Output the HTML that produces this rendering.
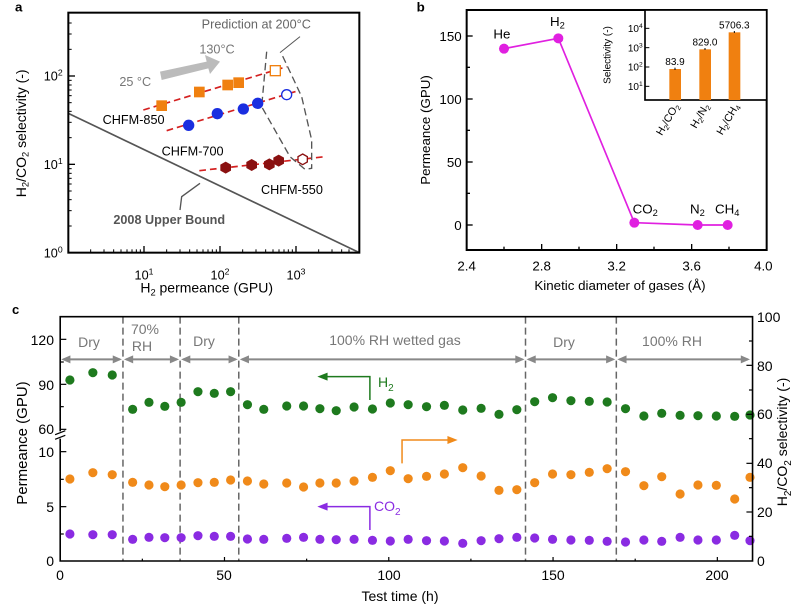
<!DOCTYPE html>
<html><head><meta charset="utf-8"><style>
html,body{margin:0;padding:0;background:#fff;overflow:hidden;}
svg{display:block;font-family:"Liberation Sans",Arial,sans-serif;}
</style></head><body>
<svg width="800" height="605" viewBox="0 0 800 605" xmlns="http://www.w3.org/2000/svg">
<!-- Panel a -->
<g transform="scale(0.33333)">
<text x="45" y="35" font-size="40" font-weight="bold">a</text>
<line x1="205" y1="340" x2="1078" y2="758" stroke="#555" stroke-width="5"/>
<polyline points="540,630 545,590 600,550" fill="none" stroke="#555" stroke-width="4"/>
<text x="340" y="672" font-size="38" font-weight="bold" fill="#555">2008 Upper Bound</text>
<line x1="430" y1="330" x2="860" y2="200" stroke="#d42020" stroke-width="5" stroke-dasharray="20,12"/>
<line x1="500" y1="392" x2="895" y2="272" stroke="#d42020" stroke-width="5" stroke-dasharray="20,12"/>
<line x1="598" y1="512" x2="975" y2="470" stroke="#d42020" stroke-width="5" stroke-dasharray="20,12"/>
<path d="M800,155 L785,320 L870,470 L915,508 L935,505 L935,420 L905,290 L845,162" fill="none" stroke="#555" stroke-width="4" stroke-dasharray="22,12"/>
<line x1="900" y1="110" x2="840" y2="158" stroke="#555" stroke-width="3"/>
<polygon points="480,215 620,185 615,165 660,185 630,222 625,205 485,240" fill="#bbb"/>
<g fill="#f08010">
<rect x="469" y="301" width="32" height="32"/><rect x="582" y="260" width="32" height="32"/><rect x="667" y="239" width="32" height="32"/><rect x="700" y="232" width="32" height="32"/>
</g>
<rect x="811" y="197" width="30" height="30" fill="#fff" stroke="#f08010" stroke-width="4"/>
<g fill="#1a2ee0">
<circle cx="566" cy="376" r="17"/><circle cx="652" cy="341" r="17"/><circle cx="730" cy="327" r="17"/><circle cx="773" cy="310" r="17"/>
</g>
<circle cx="860" cy="284" r="15" fill="#fff" stroke="#1a2ee0" stroke-width="4"/>
<g fill="#8a1010">
<polygon points="677,485 693,494 693,512 677,521 661,512 661,494"/>
<polygon points="755,477 771,486 771,504 755,513 739,504 739,486"/>
<polygon points="808,475 824,484 824,502 808,511 792,502 792,484"/>
<polygon points="836,464 852,473 852,491 836,500 820,491 820,473"/>
</g>
<polygon points="908,462 922,470 922,486 908,494 894,486 894,470" fill="#fff" stroke="#8a1010" stroke-width="4"/>
<text x="605" y="85" font-size="38" fill="#666">Prediction at 200°C</text>
<text x="598" y="160" font-size="38" fill="#777">130°C</text>
<text x="358" y="258" font-size="38" fill="#777">25 °C</text>
<text x="308" y="372" font-size="38">CHFM-850</text>
<text x="485" y="467" font-size="38">CHFM-700</text>
<text x="783" y="582" font-size="38">CHFM-550</text>
<rect x="205" y="38" width="873" height="720" fill="none" stroke="#000" stroke-width="6"/>
<g stroke="#000" stroke-width="4">
<line x1="205" y1="493" x2="225" y2="493"/><line x1="205" y1="228" x2="225" y2="228"/>
<line x1="432" y1="758" x2="432" y2="738"/><line x1="660" y1="758" x2="660" y2="738"/><line x1="888" y1="758" x2="888" y2="738"/>
</g>
<g stroke="#000" stroke-width="3">
<line x1="205" y1="678" x2="215" y2="678"/><line x1="205" y1="632" x2="215" y2="632"/><line x1="205" y1="599" x2="215" y2="599"/><line x1="205" y1="573" x2="215" y2="573"/><line x1="205" y1="552" x2="215" y2="552"/><line x1="205" y1="535" x2="215" y2="535"/><line x1="205" y1="520" x2="215" y2="520"/><line x1="205" y1="506" x2="215" y2="506"/>
<line x1="205" y1="413" x2="215" y2="413"/><line x1="205" y1="367" x2="215" y2="367"/><line x1="205" y1="334" x2="215" y2="334"/><line x1="205" y1="308" x2="215" y2="308"/><line x1="205" y1="287" x2="215" y2="287"/><line x1="205" y1="270" x2="215" y2="270"/><line x1="205" y1="255" x2="215" y2="255"/><line x1="205" y1="241" x2="215" y2="241"/>
<line x1="205" y1="148" x2="215" y2="148"/><line x1="205" y1="102" x2="215" y2="102"/><line x1="205" y1="69" x2="215" y2="69"/>
<line x1="272" y1="758" x2="272" y2="748"/><line x1="312" y1="758" x2="312" y2="748"/><line x1="341" y1="758" x2="341" y2="748"/><line x1="363" y1="758" x2="363" y2="748"/><line x1="381" y1="758" x2="381" y2="748"/><line x1="396" y1="758" x2="396" y2="748"/><line x1="409" y1="758" x2="409" y2="748"/><line x1="421" y1="758" x2="421" y2="748"/>
<line x1="500" y1="758" x2="500" y2="748"/><line x1="540" y1="758" x2="540" y2="748"/><line x1="569" y1="758" x2="569" y2="748"/><line x1="591" y1="758" x2="591" y2="748"/><line x1="609" y1="758" x2="609" y2="748"/><line x1="624" y1="758" x2="624" y2="748"/><line x1="637" y1="758" x2="637" y2="748"/><line x1="649" y1="758" x2="649" y2="748"/>
<line x1="728" y1="758" x2="728" y2="748"/><line x1="768" y1="758" x2="768" y2="748"/><line x1="797" y1="758" x2="797" y2="748"/><line x1="819" y1="758" x2="819" y2="748"/><line x1="837" y1="758" x2="837" y2="748"/><line x1="852" y1="758" x2="852" y2="748"/><line x1="865" y1="758" x2="865" y2="748"/><line x1="877" y1="758" x2="877" y2="748"/>
<line x1="956" y1="758" x2="956" y2="748"/><line x1="996" y1="758" x2="996" y2="748"/><line x1="1025" y1="758" x2="1025" y2="748"/><line x1="1047" y1="758" x2="1047" y2="748"/>
</g>
<g font-size="38" text-anchor="end">
<text x="188" y="772">10<tspan dy="-15" font-size="26">0</tspan></text>
<text x="188" y="507">10<tspan dy="-15" font-size="26">1</tspan></text>
<text x="188" y="242">10<tspan dy="-15" font-size="26">2</tspan></text>
</g>
<g font-size="38" text-anchor="middle">
<text x="432" y="838">10<tspan dy="-15" font-size="26">1</tspan></text>
<text x="660" y="838">10<tspan dy="-15" font-size="26">2</tspan></text>
<text x="888" y="838">10<tspan dy="-15" font-size="26">3</tspan></text>
<text x="620" y="878" font-size="42">H<tspan dy="8" font-size="28">2</tspan><tspan dy="-8"> permeance (GPU)</tspan></text>
<text transform="translate(78,400) rotate(-90)" font-size="42">H<tspan dy="8" font-size="28">2</tspan><tspan dy="-8">/CO</tspan><tspan dy="8" font-size="28">2</tspan><tspan dy="-8"> selectivity (-)</tspan></text>
</g>
</g>
<!-- Panel b -->
<g transform="translate(400,0) scale(0.33333)">
<text x="50" y="35" font-size="40" font-weight="bold">b</text>
<polyline points="312,146 475,115 703,668 893,675 983,675" fill="none" stroke="#e020e0" stroke-width="5"/>
<g fill="#e020e0">
<circle cx="312" cy="146" r="15"/><circle cx="475" cy="115" r="15"/><circle cx="703" cy="668" r="15"/><circle cx="893" cy="675" r="15"/><circle cx="983" cy="675" r="15"/>
</g>
<g font-size="40">
<text x="280" y="115">He</text>
<text x="450" y="78">H<tspan dy="8" font-size="28">2</tspan></text>
<text x="698" y="640">CO<tspan dy="8" font-size="28">2</tspan></text>
<text x="870" y="640">N<tspan dy="8" font-size="28">2</tspan></text>
<text x="945" y="640">CH<tspan dy="8" font-size="28">4</tspan></text>
</g>
<rect x="200" y="30" width="900" height="720" fill="none" stroke="#000" stroke-width="6"/>
<g stroke="#000" stroke-width="4">
<line x1="200" y1="675" x2="218" y2="675"/><line x1="200" y1="486" x2="218" y2="486"/><line x1="200" y1="297" x2="218" y2="297"/><line x1="200" y1="108" x2="218" y2="108"/>
<line x1="200" y1="580" x2="210" y2="580"/><line x1="200" y1="391" x2="210" y2="391"/><line x1="200" y1="202" x2="210" y2="202"/>
<line x1="425" y1="750" x2="425" y2="732"/><line x1="650" y1="750" x2="650" y2="732"/><line x1="875" y1="750" x2="875" y2="732"/>
<line x1="312" y1="750" x2="312" y2="740"/><line x1="537" y1="750" x2="537" y2="740"/><line x1="762" y1="750" x2="762" y2="740"/><line x1="987" y1="750" x2="987" y2="740"/>
</g>
<g font-size="40" text-anchor="end">
<text x="185" y="690">0</text><text x="185" y="501">50</text><text x="185" y="312">100</text><text x="185" y="123">150</text>
</g>
<g font-size="40" text-anchor="middle">
<text x="200" y="812">2.4</text><text x="425" y="812">2.8</text><text x="650" y="812">3.2</text><text x="875" y="812">3.6</text><text x="1090" y="812">4.0</text>
<text x="660" y="870">Kinetic diameter of gases (Å)</text>
<text transform="translate(90,390) rotate(-90)">Permeance (GPU)</text>
</g>
<rect x="735" y="30" width="365" height="270" fill="#fff" stroke="#000" stroke-width="5"/>
<g fill="#f08010">
<rect x="808" y="207" width="35" height="93"/><rect x="898" y="148" width="35" height="152"/><rect x="986" y="97" width="35" height="203"/>
</g>
<g stroke="#000" stroke-width="3">
<line x1="735" y1="85" x2="748" y2="85"/><line x1="735" y1="143" x2="748" y2="143"/><line x1="735" y1="201" x2="748" y2="201"/><line x1="735" y1="259" x2="748" y2="259"/>
<line x1="825" y1="203" x2="825" y2="210"/><line x1="915" y1="144" x2="915" y2="150"/><line x1="1003" y1="93" x2="1003" y2="99"/>
</g>
<g font-size="30" text-anchor="end">
<text x="728" y="96">10<tspan dy="-12" font-size="20">4</tspan></text>
<text x="728" y="154">10<tspan dy="-12" font-size="20">3</tspan></text>
<text x="728" y="212">10<tspan dy="-12" font-size="20">2</tspan></text>
<text x="728" y="270">10<tspan dy="-12" font-size="20">1</tspan></text>
</g>
<g font-size="30" text-anchor="middle">
<text x="825" y="195">83.9</text><text x="915" y="137">829.0</text><text x="1003" y="85">5706.3</text>
<text transform="translate(632,165) rotate(-90)">Selectivity (-)</text>
</g>
<g font-size="32" text-anchor="end">
<text transform="translate(838,318) rotate(-60)">H<tspan dy="7" font-size="22">2</tspan><tspan dy="-7">/CO</tspan><tspan dy="7" font-size="22">2</tspan></text>
<text transform="translate(928,318) rotate(-60)">H<tspan dy="7" font-size="22">2</tspan><tspan dy="-7">/N</tspan><tspan dy="7" font-size="22">2</tspan></text>
<text transform="translate(1018,318) rotate(-60)">H<tspan dy="7" font-size="22">2</tspan><tspan dy="-7">/CH</tspan><tspan dy="7" font-size="22">4</tspan></text>
</g>
</g>
<!-- Panel c graphics (non-uniform scale) -->
<g transform="translate(0,300) scale(0.5102,0.33333)">
<g stroke="#666" stroke-width="1.5" vector-effect="non-scaling-stroke">
<line vector-effect="non-scaling-stroke" x1="241" y1="50" x2="241" y2="783" stroke-dasharray="7,4"/><line vector-effect="non-scaling-stroke" x1="353" y1="50" x2="353" y2="783" stroke-dasharray="7,4"/><line vector-effect="non-scaling-stroke" x1="468" y1="50" x2="468" y2="783" stroke-dasharray="7,4"/><line vector-effect="non-scaling-stroke" x1="1030" y1="50" x2="1030" y2="783" stroke-dasharray="7,4"/><line vector-effect="non-scaling-stroke" x1="1208" y1="50" x2="1208" y2="783" stroke-dasharray="7,4"/>
</g>
<g stroke="#888" stroke-width="2">
<line vector-effect="non-scaling-stroke" x1="124" y1="178" x2="235" y2="178"/><line vector-effect="non-scaling-stroke" x1="247" y1="178" x2="347" y2="178"/><line vector-effect="non-scaling-stroke" x1="359" y1="178" x2="462" y2="178"/><line vector-effect="non-scaling-stroke" x1="474" y1="178" x2="1024" y2="178"/><line vector-effect="non-scaling-stroke" x1="1036" y1="178" x2="1202" y2="178"/><line vector-effect="non-scaling-stroke" x1="1214" y1="178" x2="1466" y2="178"/>
</g>
<g fill="#888">
<path d="M120,178 L138,166 L138,190z"/><path d="M239,178 L221,166 L221,190z"/><path d="M243,178 L261,166 L261,190z"/><path d="M351,178 L333,166 L333,190z"/><path d="M355,178 L373,166 L373,190z"/><path d="M466,178 L448,166 L448,190z"/><path d="M470,178 L488,166 L488,190z"/><path d="M1028,178 L1010,166 L1010,190z"/><path d="M1032,178 L1050,166 L1050,190z"/><path d="M1206,178 L1188,166 L1188,190z"/><path d="M1210,178 L1228,166 L1228,190z"/><path d="M1470,178 L1452,166 L1452,190z"/>
</g>
<g fill="#1e7a1e">
<ellipse cx="137" cy="240" rx="9" ry="13.8"/><ellipse cx="182" cy="218" rx="9" ry="13.8"/><ellipse cx="220" cy="225" rx="9" ry="13.8"/><ellipse cx="260" cy="328" rx="9" ry="13.8"/><ellipse cx="292" cy="307" rx="9" ry="13.8"/><ellipse cx="323" cy="319" rx="9" ry="13.8"/><ellipse cx="355" cy="307" rx="9" ry="13.8"/><ellipse cx="388" cy="275" rx="9" ry="13.8"/><ellipse cx="420" cy="280" rx="9" ry="13.8"/><ellipse cx="452" cy="275" rx="9" ry="13.8"/><ellipse cx="485" cy="314" rx="9" ry="13.8"/><ellipse cx="517" cy="328" rx="9" ry="13.8"/><ellipse cx="562" cy="318" rx="9" ry="13.8"/><ellipse cx="595" cy="318" rx="9" ry="13.8"/><ellipse cx="627" cy="326" rx="9" ry="13.8"/><ellipse cx="659" cy="332" rx="9" ry="13.8"/><ellipse cx="694" cy="321" rx="9" ry="13.8"/><ellipse cx="730" cy="327" rx="9" ry="13.8"/><ellipse cx="765" cy="309" rx="9" ry="13.8"/><ellipse cx="800" cy="314" rx="9" ry="13.8"/><ellipse cx="836" cy="320" rx="9" ry="13.8"/><ellipse cx="871" cy="316" rx="9" ry="13.8"/><ellipse cx="907" cy="330" rx="9" ry="13.8"/><ellipse cx="943" cy="325" rx="9" ry="13.8"/><ellipse cx="978" cy="343" rx="9" ry="13.8"/><ellipse cx="1013" cy="329" rx="9" ry="13.8"/><ellipse cx="1048" cy="305" rx="9" ry="13.8"/><ellipse cx="1083" cy="293" rx="9" ry="13.8"/><ellipse cx="1119" cy="302" rx="9" ry="13.8"/><ellipse cx="1155" cy="304" rx="9" ry="13.8"/><ellipse cx="1190" cy="306" rx="9" ry="13.8"/><ellipse cx="1226" cy="326" rx="9" ry="13.8"/><ellipse cx="1262" cy="348" rx="9" ry="13.8"/><ellipse cx="1297" cy="340" rx="9" ry="13.8"/><ellipse cx="1333" cy="346" rx="9" ry="13.8"/><ellipse cx="1368" cy="347" rx="9" ry="13.8"/><ellipse cx="1404" cy="348" rx="9" ry="13.8"/><ellipse cx="1440" cy="349" rx="9" ry="13.8"/><ellipse cx="1470" cy="345" rx="9" ry="13.8"/>
</g>
<g fill="#f08a1a">
<ellipse cx="137" cy="537" rx="9" ry="13.8"/><ellipse cx="182" cy="518" rx="9" ry="13.8"/><ellipse cx="220" cy="524" rx="9" ry="13.8"/><ellipse cx="260" cy="547" rx="9" ry="13.8"/><ellipse cx="292" cy="555" rx="9" ry="13.8"/><ellipse cx="323" cy="560" rx="9" ry="13.8"/><ellipse cx="355" cy="555" rx="9" ry="13.8"/><ellipse cx="388" cy="548" rx="9" ry="13.8"/><ellipse cx="420" cy="547" rx="9" ry="13.8"/><ellipse cx="452" cy="540" rx="9" ry="13.8"/><ellipse cx="485" cy="543" rx="9" ry="13.8"/><ellipse cx="517" cy="552" rx="9" ry="13.8"/><ellipse cx="562" cy="549" rx="9" ry="13.8"/><ellipse cx="595" cy="561" rx="9" ry="13.8"/><ellipse cx="627" cy="549" rx="9" ry="13.8"/><ellipse cx="659" cy="549" rx="9" ry="13.8"/><ellipse cx="694" cy="543" rx="9" ry="13.8"/><ellipse cx="730" cy="532" rx="9" ry="13.8"/><ellipse cx="765" cy="512" rx="9" ry="13.8"/><ellipse cx="800" cy="536" rx="9" ry="13.8"/><ellipse cx="836" cy="529" rx="9" ry="13.8"/><ellipse cx="871" cy="522" rx="9" ry="13.8"/><ellipse cx="907" cy="503" rx="9" ry="13.8"/><ellipse cx="943" cy="528" rx="9" ry="13.8"/><ellipse cx="978" cy="571" rx="9" ry="13.8"/><ellipse cx="1013" cy="569" rx="9" ry="13.8"/><ellipse cx="1048" cy="548" rx="9" ry="13.8"/><ellipse cx="1083" cy="522" rx="9" ry="13.8"/><ellipse cx="1119" cy="524" rx="9" ry="13.8"/><ellipse cx="1155" cy="517" rx="9" ry="13.8"/><ellipse cx="1190" cy="506" rx="9" ry="13.8"/><ellipse cx="1226" cy="515" rx="9" ry="13.8"/><ellipse cx="1262" cy="557" rx="9" ry="13.8"/><ellipse cx="1297" cy="530" rx="9" ry="13.8"/><ellipse cx="1333" cy="582" rx="9" ry="13.8"/><ellipse cx="1368" cy="555" rx="9" ry="13.8"/><ellipse cx="1404" cy="556" rx="9" ry="13.8"/><ellipse cx="1440" cy="597" rx="9" ry="13.8"/><ellipse cx="1470" cy="532" rx="9" ry="13.8"/>
</g>
<g fill="#8a2be2">
<ellipse cx="137" cy="702" rx="9" ry="13.8"/><ellipse cx="182" cy="704" rx="9" ry="13.8"/><ellipse cx="220" cy="704" rx="9" ry="13.8"/><ellipse cx="260" cy="718" rx="9" ry="13.8"/><ellipse cx="292" cy="712" rx="9" ry="13.8"/><ellipse cx="323" cy="713" rx="9" ry="13.8"/><ellipse cx="355" cy="713" rx="9" ry="13.8"/><ellipse cx="388" cy="707" rx="9" ry="13.8"/><ellipse cx="420" cy="709" rx="9" ry="13.8"/><ellipse cx="452" cy="709" rx="9" ry="13.8"/><ellipse cx="485" cy="717" rx="9" ry="13.8"/><ellipse cx="517" cy="718" rx="9" ry="13.8"/><ellipse cx="562" cy="715" rx="9" ry="13.8"/><ellipse cx="595" cy="712" rx="9" ry="13.8"/><ellipse cx="627" cy="718" rx="9" ry="13.8"/><ellipse cx="659" cy="719" rx="9" ry="13.8"/><ellipse cx="694" cy="718" rx="9" ry="13.8"/><ellipse cx="730" cy="721" rx="9" ry="13.8"/><ellipse cx="765" cy="723" rx="9" ry="13.8"/><ellipse cx="800" cy="718" rx="9" ry="13.8"/><ellipse cx="836" cy="722" rx="9" ry="13.8"/><ellipse cx="871" cy="723" rx="9" ry="13.8"/><ellipse cx="907" cy="730" rx="9" ry="13.8"/><ellipse cx="943" cy="722" rx="9" ry="13.8"/><ellipse cx="978" cy="716" rx="9" ry="13.8"/><ellipse cx="1013" cy="712" rx="9" ry="13.8"/><ellipse cx="1048" cy="714" rx="9" ry="13.8"/><ellipse cx="1083" cy="718" rx="9" ry="13.8"/><ellipse cx="1119" cy="720" rx="9" ry="13.8"/><ellipse cx="1155" cy="721" rx="9" ry="13.8"/><ellipse cx="1190" cy="724" rx="9" ry="13.8"/><ellipse cx="1226" cy="726" rx="9" ry="13.8"/><ellipse cx="1262" cy="720" rx="9" ry="13.8"/><ellipse cx="1297" cy="724" rx="9" ry="13.8"/><ellipse cx="1333" cy="712" rx="9" ry="13.8"/><ellipse cx="1368" cy="720" rx="9" ry="13.8"/><ellipse cx="1404" cy="720" rx="9" ry="13.8"/><ellipse cx="1440" cy="706" rx="9" ry="13.8"/><ellipse cx="1470" cy="722" rx="9" ry="13.8"/>
</g>
<polyline vector-effect="non-scaling-stroke" points="725,300 725,230 640,230" fill="none" stroke="#1e7a1e" stroke-width="1.5"/><path d="M622,230 L642,218 L642,242z" fill="#1e7a1e"/>
<polyline vector-effect="non-scaling-stroke" points="788,490 788,420 880,420" fill="none" stroke="#f08a1a" stroke-width="1.5"/><path d="M897,420 L877,408 L877,432z" fill="#f08a1a"/>
<polyline vector-effect="non-scaling-stroke" points="725,690 725,620 640,620" fill="none" stroke="#8a2be2" stroke-width="1.5"/><path d="M622,620 L642,608 L642,632z" fill="#8a2be2"/>
<rect vector-effect="non-scaling-stroke" x="118" y="50" width="1357" height="733" fill="none" stroke="#000" stroke-width="1.6"/>
<rect x="108" y="394" width="20" height="22" fill="#fff"/>
<g stroke="#000" stroke-width="1.2">
<line vector-effect="non-scaling-stroke" x1="108" y1="404" x2="128" y2="392"/><line vector-effect="non-scaling-stroke" x1="108" y1="418" x2="128" y2="406"/>
<line vector-effect="non-scaling-stroke" x1="118" y1="118" x2="130" y2="118"/><line vector-effect="non-scaling-stroke" x1="118" y1="253" x2="130" y2="253"/><line vector-effect="non-scaling-stroke" x1="118" y1="388" x2="130" y2="388"/><line vector-effect="non-scaling-stroke" x1="118" y1="455" x2="130" y2="455"/><line vector-effect="non-scaling-stroke" x1="118" y1="620" x2="130" y2="620"/>
<line vector-effect="non-scaling-stroke" x1="118" y1="186" x2="125" y2="186"/><line vector-effect="non-scaling-stroke" x1="118" y1="320" x2="125" y2="320"/><line vector-effect="non-scaling-stroke" x1="118" y1="538" x2="125" y2="538"/><line vector-effect="non-scaling-stroke" x1="118" y1="702" x2="125" y2="702"/>
<line vector-effect="non-scaling-stroke" x1="1475" y1="196" x2="1463" y2="196"/><line vector-effect="non-scaling-stroke" x1="1475" y1="343" x2="1463" y2="343"/><line vector-effect="non-scaling-stroke" x1="1475" y1="490" x2="1463" y2="490"/><line vector-effect="non-scaling-stroke" x1="1475" y1="636" x2="1463" y2="636"/>
<line vector-effect="non-scaling-stroke" x1="1475" y1="123" x2="1468" y2="123"/><line vector-effect="non-scaling-stroke" x1="1475" y1="270" x2="1468" y2="270"/><line vector-effect="non-scaling-stroke" x1="1475" y1="416" x2="1468" y2="416"/><line vector-effect="non-scaling-stroke" x1="1475" y1="563" x2="1468" y2="563"/><line vector-effect="non-scaling-stroke" x1="1475" y1="709" x2="1468" y2="709"/>
<line vector-effect="non-scaling-stroke" x1="440" y1="783" x2="440" y2="771"/><line vector-effect="non-scaling-stroke" x1="762" y1="783" x2="762" y2="771"/><line vector-effect="non-scaling-stroke" x1="1084" y1="783" x2="1084" y2="771"/><line vector-effect="non-scaling-stroke" x1="1406" y1="783" x2="1406" y2="771"/>
<line vector-effect="non-scaling-stroke" x1="279" y1="783" x2="279" y2="776"/><line vector-effect="non-scaling-stroke" x1="601" y1="783" x2="601" y2="776"/><line vector-effect="non-scaling-stroke" x1="923" y1="783" x2="923" y2="776"/><line vector-effect="non-scaling-stroke" x1="1245" y1="783" x2="1245" y2="776"/>
</g>
</g>
<!-- Panel c text (real coords) -->
<text x="12" y="314" font-size="13" font-weight="bold">c</text>
<g font-size="14" fill="#777" text-anchor="middle">
<text x="89" y="347">Dry</text><text x="145" y="334">70%</text><text x="142" y="351">RH</text><text x="204" y="346">Dry</text>
<text x="395" y="345">100% RH wetted gas</text><text x="564" y="347">Dry</text><text x="672" y="346">100% RH</text>
</g>
<text x="378" y="387" font-size="14" fill="#1e7a1e">H<tspan dy="4" font-size="10">2</tspan></text>
<text x="374" y="511" font-size="14" fill="#8a2be2">CO<tspan dy="4" font-size="10">2</tspan></text>
<g font-size="14" text-anchor="end">
<text x="54" y="345">120</text><text x="54" y="390">90</text><text x="54" y="434">60</text><text x="54" y="457">10</text><text x="54" y="512">5</text><text x="54" y="566">0</text>
</g>
<g font-size="14">
<text x="757" y="322">100</text><text x="757" y="371">80</text><text x="757" y="419">60</text><text x="757" y="468">40</text><text x="757" y="517">20</text><text x="757" y="566">0</text>
</g>
<g font-size="14" text-anchor="middle">
<text x="60" y="580">0</text><text x="224" y="580">50</text><text x="389" y="580">100</text><text x="553" y="580">150</text><text x="717" y="580">200</text>
<text x="400" y="601">Test time (h)</text>
<text transform="translate(27,443) rotate(-90)" font-size="15">Permeance (GPU)</text>
<text transform="translate(787,442) rotate(-90)" font-size="14">H<tspan dy="4" font-size="10">2</tspan><tspan dy="-4">/CO</tspan><tspan dy="4" font-size="10">2</tspan><tspan dy="-4"> selectivity (-)</tspan></text>
</g>
</svg>
</body></html>
